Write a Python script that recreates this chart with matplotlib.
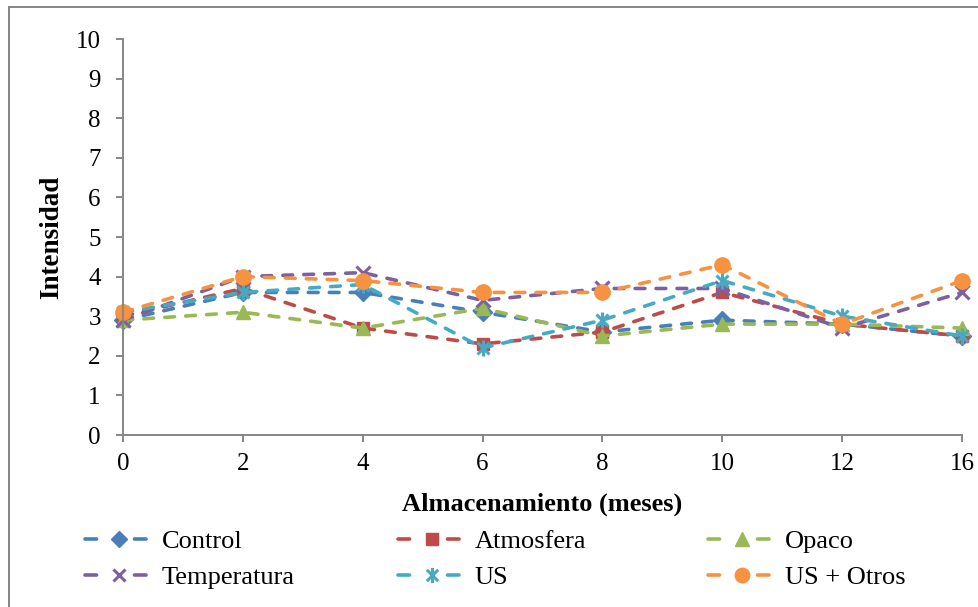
import matplotlib
matplotlib.use("Agg")
import matplotlib.pyplot as plt
from matplotlib.lines import Line2D
from matplotlib.path import Path
import numpy as np

# Storage months (categorical axis) and sensory intensity per treatment
months = ["0", "2", "4", "6", "8", "10", "12", "16"]
control = [2.9, 3.6, 3.6, 3.1, 2.6, 2.9, 2.8, 2.5]
atmosfera = [3.0, 3.7, 2.7, 2.3, 2.6, 3.6, 2.8, 2.5]
opaco = [2.9, 3.1, 2.7, 3.2, 2.5, 2.8, 2.8, 2.7]
temperatura = [2.9, 4.0, 4.1, 3.4, 3.7, 3.7, 2.7, 3.6]
us = [3.1, 3.6, 3.8, 2.2, 2.9, 3.9, 3.0, 2.5]
us_otros = [3.1, 4.0, 3.9, 3.6, 3.6, 4.3, 2.8, 3.9]

series_names = ["Control", "Atmosfera", "Opaco", "Temperatura", "US", "US + Otros"]
series_values = [control, atmosfera, opaco, temperatura, us, us_otros]
y_ticks = list(range(0, 11))

plt.rcParams["font.family"] = ["Liberation Serif", "DejaVu Serif"]

# Asterisk marker: vertical bar plus a cross
asterisk = Path(
    [(0, -1), (0, 1), (-0.75, -0.75), (0.75, 0.75), (-0.75, 0.75), (0.75, -0.75)],
    [Path.MOVETO, Path.LINETO, Path.MOVETO, Path.LINETO, Path.MOVETO, Path.LINETO],
)

colors = ["#4A7EBB", "#BE4B48", "#98B954", "#7D60A0", "#46AAC5", "#F69240"]
markers = ["D", "s", "^", "x", asterisk, "o"]
msizes = [9, 9, 10.5, 9.5, 11.5, 11]
mews = [1, 1, 1, 2.2, 2.2, 1]

W, H = 979, 607
fig = plt.figure(figsize=(W / 100, H / 100), dpi=100)
ax = fig.add_axes([123 / W, 1 - 435 / H, (962 - 123) / W, (435 - 39) / H])

x = np.arange(len(months))
lw = 2.6
for vals, c, m, ms, mew in zip(series_values, colors, markers, msizes, mews):
    ax.plot(x, vals, color=c, lw=lw, dashes=(2.7, 3.1), dash_capstyle="round",
            marker=m, ms=ms, mfc=c, mec=c, mew=mew, clip_on=False)

ax.set_xlim(0, len(months) - 1)
ax.set_ylim(0, 10)
ax.set_xticks(x)
ax.set_xticklabels(months)
ax.set_yticks(y_ticks)

spine_c = "#868686"
for s in ["top", "right"]:
    ax.spines[s].set_visible(False)
for s in ["left", "bottom"]:
    ax.spines[s].set_color(spine_c)
    ax.spines[s].set_linewidth(1.4)
ax.tick_params(axis="both", direction="out", length=5, width=1.4, color=spine_c,
               labelsize=18, labelcolor="black")
ax.tick_params(axis="y", pad=11)
ax.tick_params(axis="x", pad=8)

fig.text(542.5 / W, 1 - 504 / H, "Almacenamiento (meses)", ha="center", va="center",
         fontsize=19, fontweight="bold")
fig.text(52 / W, 1 - 237 / H, "Intensidad", ha="center", va="center", rotation=90,
         fontsize=19.5, fontweight="bold")

# Legend: three columns of two entries each
handles = [
    Line2D([], [], color=c, lw=lw, dashes=(3.2, 10.5), dash_capstyle="round",
           marker=m, ms=ms * 0.95, mfc=c, mec=c, mew=mew)
    for c, m, ms, mew in zip(colors, markers, msizes, mews)
]
col_x = [85, 398, 708]
for i, cx in enumerate(col_x):
    idx = [i, i + 3]
    fig.legend([handles[j] for j in idx], [series_names[j] for j in idx],
               loc="upper left", bbox_to_anchor=(cx / W, 1 - 530 / H),
               bbox_transform=fig.transFigure, frameon=False, fontsize=19,
               handlelength=2.55, handletextpad=0.35, labelspacing=0.45,
               borderpad=0, borderaxespad=0, numpoints=1)

# Outer chart-area border
fig.add_artist(Line2D([9 / W, 9 / W], [0, 1 - 7 / H], color="#868686", lw=1.4,
                      transform=fig.transFigure))
fig.add_artist(Line2D([9 / W, 1], [1 - 7 / H, 1 - 7 / H], color="#868686", lw=1.4,
                      transform=fig.transFigure))

fig.savefig("out.png", dpi=100)
